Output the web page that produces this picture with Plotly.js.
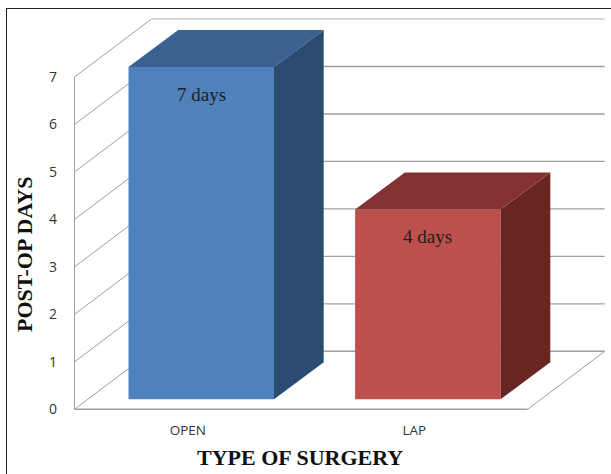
<!DOCTYPE html>
<html>
<head>
<meta charset="utf-8">
<script src="https://cdn.plot.ly/plotly-3.0.1.min.js"></script>
<style>
html,body{margin:0;padding:0;background:#fff;overflow:hidden}
#chart{position:absolute;left:0;top:0;width:611px;height:474px}
#frame{position:absolute;left:6px;top:8px;right:0;bottom:-4px;border-left:1.4px solid #222;border-top:1.4px solid #222;pointer-events:none}
</style>
</head>
<body>
<div id="chart"></div>
<div id="frame"></div>
<script>
// ---- data ----
const categories = ["OPEN", "LAP"];
const postOpDays = [7, 4];
const yTicks = [0, 1, 2, 3, 4, 5, 6, 7];
const barSuffix = " days";
const xTitle = "TYPE OF SURGERY";
const yTitle = "POST-OP DAYS";

// ---- styles ----
const frontColors = ["#4f81bd", "#bd504d"];
const topColors = ["#3a618f", "#823230"];
const sideColors = ["#2c4b71", "#682623"];
const gridColor = "#a0a0a0";

// ---- oblique-projection geometry, in axis units ----
const pxX = 226.6, pxY = 47.47;
const W = 611, H = 474, mL = 70, mR = 0, mT = 10, mB = 55;
const wallDX = 77 / pxX, wallDY = 58 / pxY;       // depth of the whole floor
const barShiftX = 13.45 / pxX, barBase = 10 / pxY; // bar front offset from floor front
const barW = 145.5 / pxX;
const barDX = 49.7 / pxX, barDY = 37 / pxY;       // depth of a bar
const xMin = -0.5 - 4.5 / pxX;
const xMax = xMin + (W - mL - mR) / pxX;
const yMin = -9.7 / pxY;
const yMax = yMin + (H - mT - mB) / pxY;
const pos = categories.map((_, i) => i);

const traces = [];
traces.push({
  type: "bar",
  x: pos.map(p => p + barShiftX),
  y: postOpDays,
  base: postOpDays.map(() => barBase),
  width: barW,
  marker: {color: frontColors, line: {width: 0}},
  hoverinfo: "skip",
  showlegend: false
});
pos.forEach((p, i) => {
  const L = p + barShiftX - barW / 2, R = p + barShiftX + barW / 2;
  const B = barBase, T = barBase + postOpDays[i];
  traces.push({
    type: "scatter", mode: "lines", fill: "toself", fillcolor: sideColors[i],
    x: [R, R + barDX, R + barDX, R, R],
    y: [B, B + barDY, T + barDY, T, B],
    line: {width: 0, color: sideColors[i]}, hoverinfo: "skip", showlegend: false
  });
  traces.push({
    type: "scatter", mode: "lines", fill: "toself", fillcolor: topColors[i],
    x: [L, R, R + barDX, L + barDX, L],
    y: [T, T, T + barDY, T + barDY, T],
    line: {width: 0, color: topColors[i]}, hoverinfo: "skip", showlegend: false
  });
});

// ---- walls and floor ----
const X0 = -0.5, X1 = categories.length - 0.5;
const seg = (x0, y0, x1, y1, color, width) => ({
  type: "line", xref: "x", yref: "y", layer: "below",
  x0, y0, x1, y1, line: {color: color || gridColor, width: width || 1.2}
});
const shapes = [];
yTicks.forEach(v => {
  const last = v === yTicks[yTicks.length - 1];
  const c = last ? "#cccccc" : gridColor;
  shapes.push(seg(X0, v, X0 + wallDX, v + wallDY, gridColor, 1));
  shapes.push(seg(X0 + wallDX, v + wallDY, X1 + wallDX, v + wallDY, c, 1.4));
});
shapes.push(seg(X0, 0, X0, yTicks[yTicks.length - 1], gridColor, 1));
shapes.push(seg(X0, 0, X1, 0, gridColor, 1.4));
shapes.push(seg(X1, 0, X1 + wallDX, wallDY, gridColor, 1));

// ---- texts ----
const annotations = pos.map((p, i) => ({
  xref: "x", yref: "y",
  x: p + barShiftX,
  y: barBase + postOpDays[i] - 0.57,
  text: postOpDays[i] + barSuffix,
  showarrow: false,
  xanchor: "center", yanchor: "middle",
  font: {family: "Liberation Serif", size: 19, color: "#1e1e1e"}
}));
annotations.push({
  xref: "paper", yref: "paper",
  x: (300 - mL) / (W - mL - mR),
  y: 1 - (457 - mT) / (H - mT - mB),
  xanchor: "center", yanchor: "middle",
  text: "<b>" + xTitle + "</b>", showarrow: false,
  font: {family: "Liberation Serif", size: 22, color: "#111"}
});
annotations.push({
  xref: "paper", yref: "paper",
  x: (24 - mL) / (W - mL - mR),
  y: 1 - (255 - mT) / (H - mT - mB),
  xanchor: "center", yanchor: "middle",
  text: "<b>" + yTitle + "</b>", showarrow: false, textangle: -90,
  font: {family: "Liberation Serif", size: 22, color: "#111"}
});

Plotly.newPlot("chart", traces, {
  width: W, height: H,
  margin: {l: mL, r: mR, t: mT, b: mB, pad: 0},
  paper_bgcolor: "rgba(0,0,0,0)",
  plot_bgcolor: "rgba(0,0,0,0)",
  showlegend: false,
  xaxis: {
    range: [xMin, xMax], tickvals: pos, ticktext: categories,
    showgrid: false, zeroline: false, showline: false, ticks: "",
    ticklabelstandoff: 1,
    tickfont: {family: "Open Sans", size: 13.5, color: "#333"}
  },
  yaxis: {
    range: [yMin, yMax], tickvals: yTicks,
    showgrid: false, zeroline: false, showline: false, ticks: "",
    ticklabelstandoff: 12,
    tickfont: {family: "Open Sans", size: 14, color: "#333"}
  },
  shapes, annotations
}, {displayModeBar: false, staticPlot: true});
</script>
</body>
</html>
